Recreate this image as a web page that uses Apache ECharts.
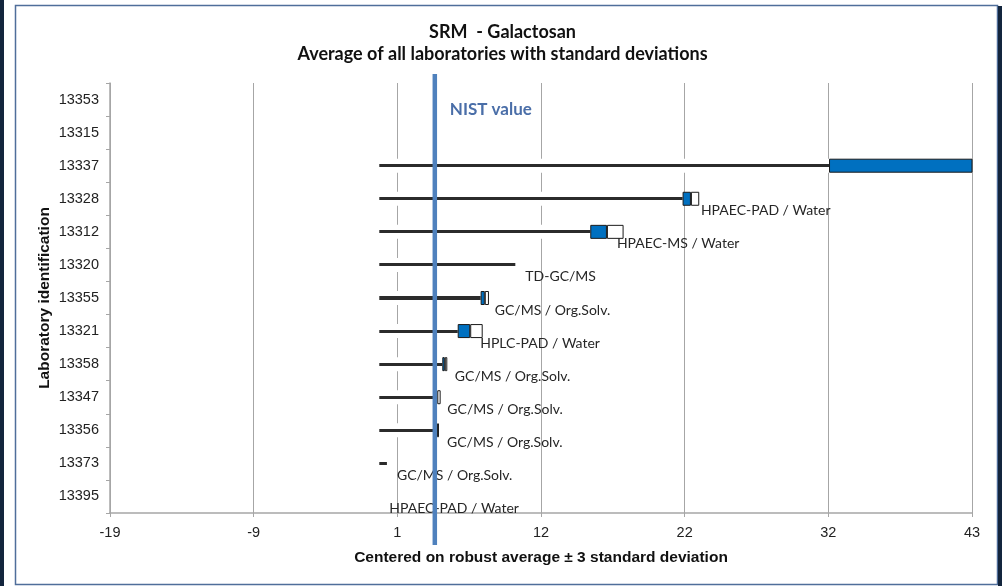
<!DOCTYPE html>
<html>
<head>
<meta charset="utf-8">
<script src="https://cdn.jsdelivr.net/npm/echarts@6/dist/echarts.min.js"></script>
<style>
  html, body { margin: 0; padding: 0; background: #fff; }
  #chart { width: 1005px; height: 586px; }
</style>
</head>
<body>
<div id="chart"></div>
<script>
// Laboratory identifications, top to bottom
const labs = ['13353', '13315', '13337', '13328', '13312', '13320', '13355',
              '13321', '13358', '13347', '13356', '13373', '13395'];
// Mean result per laboratory (null = no result)
const means = [null, null, 45.4, 22.45, 16.4, 9.8, 7.6, 6.55, 4.72, 4.18, 4.16, 0.55, 0];
// Standard deviation per laboratory
const sds = [null, null, 13, 0.6, 1.2, 0, 0.3, 0.9, 0.18, 0.24, 0.14, 0, 0];
// Analytical method per laboratory
const methods = ['', '', '', 'HPAEC-PAD / Water', 'HPAEC-MS / Water', 'TD-GC/MS',
                 'GC/MS / Org.Solv.', 'HPLC-PAD / Water', 'GC/MS / Org.Solv.',
                 'GC/MS / Org.Solv.', 'GC/MS / Org.Solv.', 'GC/MS / Org.Solv.',
                 'HPAEC-PAD / Water'];
// Reference value
const nistValue = 4.0;
// Axis: robust average ± 3 standard deviations
const axisMin = -19.4;
const axisStep = 10.35;
const axisMax = 42.7;

const baseVals = means.map((m, i) => m == null ? '-' : +(m - sds[i]).toFixed(3));
const lowVals = sds.map((s, i) => (means[i] == null || !s) ? '-' : s);
const highVals = sds.map((s, i) => (means[i] == null || !s) ? '-' : s);
const labelData = [];
means.forEach((m, i) => { if (m != null && methods[i]) labelData.push([m, i, i]); });

// whisker: white band with a dark stripe through the middle
const whisker = {
  type: 'linear', x: 0, y: 0, x2: 0, y2: 1,
  colorStops: [
    { offset: 0, color: '#ffffff' }, { offset: 0.39, color: '#ffffff' },
    { offset: 0.39, color: '#2b2b2b' }, { offset: 0.61, color: '#2b2b2b' },
    { offset: 0.61, color: '#ffffff' }, { offset: 1, color: '#ffffff' }
  ]
};

const chart = echarts.init(document.getElementById('chart'));
chart.setOption({
  animation: false,
  backgroundColor: '#ffffff',
  title: {
    text: 'SRM  - Galactosan',
    subtext: 'Average of all laboratories with standard deviations',
    left: 'center',
    top: 18,
    itemGap: 4,
    textStyle: { fontFamily: 'Lato', fontWeight: 'bold', fontSize: 18, color: '#111' },
    subtextStyle: { fontFamily: 'Lato', fontWeight: 'bold', fontSize: 18, color: '#111' }
  },
  graphic: [
    { type: 'rect', shape: { x: 0, y: 0, width: 4, height: 586 }, style: { fill: '#13253d' }, silent: true },
    { type: 'rect', shape: { x: 15.5, y: 5.5, width: 982, height: 579 },
      style: { fill: 'none', stroke: '#4f6e9a', lineWidth: 1.5 }, silent: true },
    { type: 'rect', shape: { x: 998, y: 6, width: 4, height: 580 }, style: { fill: '#13253d' }, silent: true }
  ],
  grid: { left: 110, right: 33, top: 83, bottom: 73, containLabel: false },
  xAxis: {
    type: 'value',
    min: axisMin, max: axisMax, interval: axisStep,
    name: 'Centered on robust average ± 3 standard deviation',
    nameLocation: 'middle', nameGap: 37, nameMoveOverlap: false,
    nameTextStyle: { fontFamily: 'Liberation Sans', fontWeight: 'bold', fontSize: 15.5, color: '#111' },
    axisLine: { show: true, onZero: false, lineStyle: { color: '#a6a6a6', width: 1.5 } },
    axisTick: { show: true, length: 4, lineStyle: { color: '#a6a6a6' } },
    axisLabel: {
      formatter: v => String(Math.round(v)),
      fontFamily: 'Liberation Sans', fontSize: 14.5, color: '#222', margin: 12
    },
    splitLine: { show: true, lineStyle: { color: '#a6a6a6', width: 1 } }
  },
  yAxis: {
    type: 'category',
    data: labs,
    inverse: true,
    name: 'Laboratory identification',
    nameLocation: 'middle', nameGap: 57, nameRotate: 90, nameMoveOverlap: false,
    nameTextStyle: { fontFamily: 'Liberation Sans', fontWeight: 'bold', fontSize: 15.5, color: '#111' },
    axisLine: { show: true, onZero: false, lineStyle: { color: '#a6a6a6', width: 1.5 } },
    axisTick: { show: true, length: 4, lineStyle: { color: '#a6a6a6' } },
    axisLabel: { fontFamily: 'Liberation Sans', fontSize: 14.5, color: '#222', margin: 11 },
    splitLine: { show: false }
  },
  series: [
    {
      name: 'base', type: 'bar', stack: 'lab', barWidth: 14,
      data: baseVals,
      itemStyle: { color: whisker },
      z: 2
    },
    {
      name: 'lower', type: 'bar', stack: 'lab', barWidth: 14,
      data: lowVals,
      itemStyle: { color: '#0070c0', borderColor: '#1a1a1a', borderWidth: 1 },
      z: 2
    },
    {
      name: 'upper', type: 'bar', stack: 'lab', barWidth: 14,
      data: highVals,
      itemStyle: { color: '#ffffff', borderColor: '#1a1a1a', borderWidth: 1 },
      z: 2
    },
    {
      name: 'methods', type: 'custom',
      data: labelData,
      encode: { x: 0, y: 1 },
      z: 4,
      renderItem: (params, api) => {
        const p = api.coord([api.value(0), api.value(1)]);
        return {
          type: 'text',
          style: {
            text: methods[labelData[params.dataIndex][2]],
            x: p[0] + 10, y: p[1] + 12,
            verticalAlign: 'middle', align: 'left',
            font: '14px Lato', fill: '#262626'
          }
        };
      }
    },
    {
      name: 'NIST', type: 'custom',
      data: [[nistValue, 0]],
      encode: { x: 0, y: 1 },
      z: 5,
      renderItem: (params, api) => {
        const cs = params.coordSys;
        const x = api.coord([api.value(0), 0])[0];
        return {
          type: 'group',
          children: [
            { type: 'line', shape: { x1: x, y1: cs.y - 9, x2: x, y2: cs.y + cs.height + 32 },
              style: { stroke: '#4f81bd', lineWidth: 4.5 } },
            { type: 'text', style: { text: 'NIST value', x: x + 15, y: cs.y + 27,
              verticalAlign: 'middle', align: 'left', font: 'bold 17px Lato', fill: '#4a6ea8' } }
          ]
        };
      }
    }
  ]
});
</script>
</body>
</html>
